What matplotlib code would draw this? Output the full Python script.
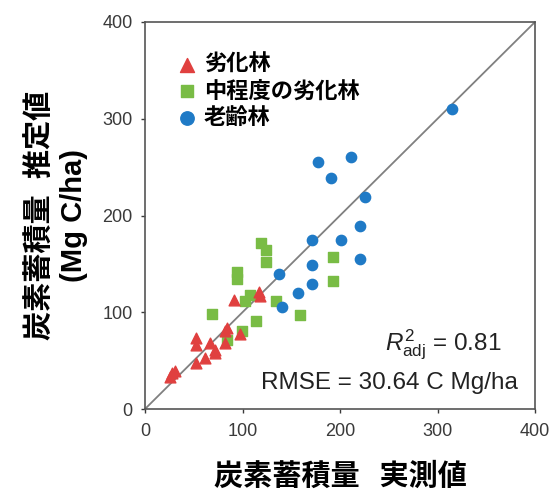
import numpy as np
import matplotlib
matplotlib.use("Agg")
import matplotlib.pyplot as plt

plt.rcParams["font.family"] = ["Liberation Sans", "Noto Sans CJK JP"]
plt.rcParams["mathtext.fontset"] = "custom"
plt.rcParams["mathtext.rm"] = "Liberation Sans"
plt.rcParams["mathtext.it"] = "Liberation Sans:italic"

# degraded forest (red triangles)
deg_obs = [91, 117, 118, 84, 82, 97, 82, 52, 52, 67, 72, 72, 62, 52, 28, 31, 26]
deg_est = [113, 121, 117, 84, 81, 78, 68, 73, 66, 68, 61, 58, 53, 48, 37, 39, 33]

# moderately degraded forest (green squares)
mod_obs = [119, 124, 124, 94, 94, 193, 193, 108, 103, 134, 159, 69, 114, 99, 84]
mod_est = [172, 164, 152, 142, 134, 157, 132, 118, 112, 112, 97, 98, 91, 81, 71]

# old-growth forest (blue circles)
old_obs = [315, 177, 211, 191, 226, 171, 201, 220, 220, 171, 171, 137, 157, 141]
old_est = [310, 255, 260, 239, 219, 175, 175, 189, 155, 149, 129, 140, 120, 105]

labels = ["劣化林", "中程度の劣化林", "老齢林"]
ticks = [0, 100, 200, 300, 400]

fig = plt.figure(figsize=(5.54, 4.92), dpi=100)
ax = fig.add_axes([145 / 554, 1 - 409 / 492, 390 / 554, 387 / 492])

ax.plot([0, 400], [0, 400], color="#808080", lw=1.3, zorder=1)

ax.scatter(deg_obs, deg_est, marker="^", s=60, color="#e0403f", label=labels[0], zorder=3)
ax.scatter(mod_obs, mod_est, marker="s", s=50, color="#79bc45", label=labels[1], zorder=2)
ax.scatter(old_obs, old_est, marker="o", s=55, color="#1f7ac6", label=labels[2], zorder=2)

ax.set_xlim(0, 400)
ax.set_ylim(0, 400)
ax.set_xticks(ticks)
ax.set_yticks(ticks)
ax.tick_params(direction="out", length=3, width=1, labelsize=13, colors="#3a3a3a")
ax.tick_params(axis="y", pad=6)
ax.tick_params(axis="x", pad=7)
for s in ax.spines.values():
    s.set_color("#555555")
    s.set_linewidth(1.2)

ax.set_xlabel("炭素蓄積量   実測値", fontsize=21, fontweight="bold",
              family=["Noto Sans CJK JP"], labelpad=15)
ax.set_ylabel("炭素蓄積量  推定値\n(Mg C/ha)", fontsize=21, fontweight="bold",
              family=["Liberation Sans", "Noto Sans CJK JP"], labelpad=10,
              linespacing=1.25)

leg = ax.legend(loc="upper left", bbox_to_anchor=(0.08, 0.92), frameon=False,
                borderaxespad=0, borderpad=0, markerscale=1.3,
                handletextpad=0.25, handlelength=1.0, labelspacing=0.15,
                prop={"family": "Noto Sans CJK JP", "weight": "bold", "size": 16})

ax.text(0.915, 0.165, r"$\mathit{R}^{2}_{\mathrm{adj}}$ = 0.81", transform=ax.transAxes,
        ha="right", va="center", fontsize=17.5, color="#222222")
ax.text(0.956, 0.067, "RMSE = 30.64 C Mg/ha", transform=ax.transAxes,
        ha="right", va="center", fontsize=17.5, color="#222222")

plt.savefig("out.png", dpi=100)
